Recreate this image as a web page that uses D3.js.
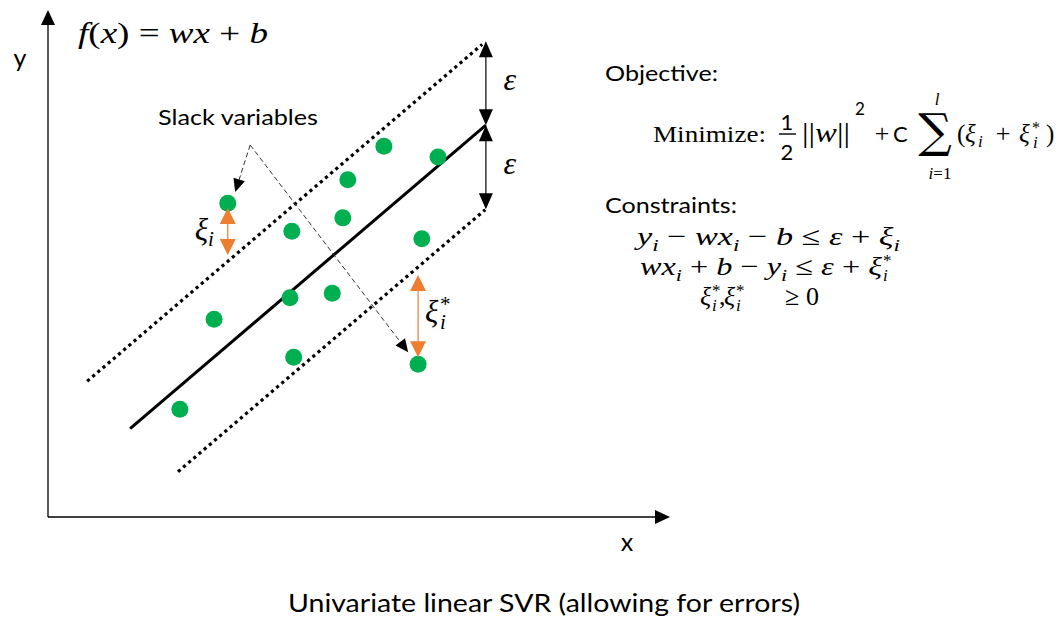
<!DOCTYPE html>
<html><head><meta charset="utf-8">
<script src="https://cdn.jsdelivr.net/npm/d3@7"></script>
<style>body{margin:0;background:#fff;}svg{display:block;}</style>
</head><body>
<svg id="chart" width="1063" height="619"></svg>
<script>
// ---- data (chart units) ----
const pointX = [2.89, 3.92, 4.82, 4.74, 5.40, 6.27, 6.01, 2.67, 3.89, 4.57, 3.95, 5.95, 2.12];
const pointY = [4.95, 4.51, 5.32, 4.72, 5.85, 5.68, 4.39, 3.12, 3.46, 3.53, 2.52, 2.41, 1.70];
const slope = 0.837;
const intercept = 0.29;
const epsilon = 1.325;
const bandNames = ["upper", "fit", "lower"];
const bandOffset = [1, 0, -1];          // multiples of epsilon
const bandXStart = [0.63, 1.32, 2.09];
const bandXEnd = [6.98, 7.04, 7.03];
const epsArrowX = 7.04;
const slackX = [2.89, 5.95];
const slackYTop = [4.876, 3.82];
const slackYBottom = [4.134, 2.52];
const noteApex = [3.25, 5.87];
const noteTipX = [3.01, 5.79];
const noteTipY = [5.13, 2.60];
const xDomain = [0, 10];
const yDomain = [0, 8];

// ---- scales ----
const svg = d3.select("#chart");
const x = d3.scaleLinear().domain(xDomain).range([48, 670]);
const y = d3.scaleLinear().domain(yDomain).range([517, 10]);
const f = v => slope * v + intercept;

function head(tx, ty, fx, fy, len, hw, color) {
  const dx = tx - fx, dy = ty - fy, d = Math.hypot(dx, dy);
  const ux = dx / d, uy = dy / d;
  const bx = tx - ux * len, by = ty - uy * len;
  return svg.append("path")
    .attr("d", `M${tx},${ty}L${bx - uy * hw},${by + ux * hw}L${bx + uy * hw},${by - ux * hw}Z`)
    .attr("fill", color);
}

// ---- axes ----
const g = svg.append("g");
g.append("line").attr("x1", x(0)).attr("x2", x(xDomain[1]) - 10).attr("y1", y(0)).attr("y2", y(0))
  .attr("stroke", "#000").attr("stroke-width", 1.3);
g.append("line").attr("x1", x(0)).attr("x2", x(0)).attr("y1", y(0)).attr("y2", y(yDomain[1]) + 10)
  .attr("stroke", "#000").attr("stroke-width", 1.3);
head(x(xDomain[1]), y(0), x(0), y(0), 15, 7, "#000");
head(x(0), y(yDomain[1]), x(0), y(0), 15, 7, "#000");

// ---- regression line and epsilon band ----
bandNames.forEach((n, i) => {
  const l = g.append("line")
    .attr("x1", x(bandXStart[i])).attr("y1", y(f(bandXStart[i]) + bandOffset[i] * epsilon))
    .attr("x2", x(bandXEnd[i])).attr("y2", y(f(bandXEnd[i]) + bandOffset[i] * epsilon))
    .attr("stroke", "#000");
  if (bandOffset[i] === 0) l.attr("stroke-width", 3);
  else l.attr("stroke-width", 3.2).attr("stroke-dasharray", "3.2,3.6");
});

// ---- epsilon arrows ----
[[1, 0], [0, -1]].forEach(([a, b]) => {
  const y1 = y(f(epsArrowX) + a * epsilon), y2 = y(f(epsArrowX) + b * epsilon);
  g.append("line").attr("x1", x(epsArrowX)).attr("x2", x(epsArrowX)).attr("y1", y1 + 8).attr("y2", y2 - 8)
    .attr("stroke", "#000").attr("stroke-width", 1.2);
  head(x(epsArrowX), y1, x(epsArrowX), y2, 16, 7, "#000");
  head(x(epsArrowX), y2, x(epsArrowX), y1, 16, 7, "#000");
});

// ---- annotation dashed lines ----
noteTipX.forEach((tx, i) => {
  const ax = x(noteApex[0]), ay = y(noteApex[1]), px = x(tx), py = y(noteTipY[i]);
  const d = Math.hypot(px - ax, py - ay);
  g.append("line").attr("x1", ax).attr("y1", ay)
    .attr("x2", px - (px - ax) / d * 8).attr("y2", py - (py - ay) / d * 8)
    .attr("stroke", "#333").attr("stroke-width", 1).attr("stroke-dasharray", "5,3");
  head(px, py, ax, ay, 13, 6, "#000");
});

// ---- points ----
g.selectAll("circle.pt").data(pointX).join("circle")
  .attr("class", "pt")
  .attr("cx", (d) => x(d)).attr("cy", (d, i) => y(pointY[i]))
  .attr("r", 8.5).attr("fill", "#00b050");

// ---- slack arrows ----
slackX.forEach((sx, i) => {
  const t = y(slackYTop[i]), b = y(slackYBottom[i]);
  g.append("line").attr("x1", x(sx)).attr("x2", x(sx)).attr("y1", t + 8).attr("y2", b - 8)
    .attr("stroke", "#ed7d31").attr("stroke-width", 1.2);
  head(x(sx), t, x(sx), b, 16, 8, "#ed7d31");
  head(x(sx), b, x(sx), t, 16, 8, "#ed7d31");
});

// ---- text helpers ----
const SANS = "Lato, 'Open Sans', sans-serif";
const SERIF = "'Liberation Serif', 'DejaVu Serif', serif";
function T(px, py, size, fam, opts = {}) {
  const t = svg.append("text").attr("x", px).attr("y", py)
    .attr("font-size", size).attr("font-family", fam).attr("fill", "#000");
  if (opts.anchor) t.attr("text-anchor", opts.anchor);
  if (opts.italic) t.attr("font-style", "italic");
  if (opts.len) t.attr("textLength", opts.len).attr("lengthAdjust", "spacingAndGlyphs");
  return t;
}
function parts(t, arr) {
  let shift = 0;
  arr.forEach(([s, it, k]) => {
    const sp = t.append("tspan").text(s);
    sp.attr("font-style", it ? "italic" : "normal");
    let target = 0;
    if (k === "sub") { target = 6; sp.attr("font-size", "0.68em"); }
    if (k === "sup") { target = -10; sp.attr("font-size", "0.68em"); }
    if (target !== shift) { sp.attr("dy", target - shift); shift = target; }
  });
  return t;
}

// labels
T(20, 67, 25, SANS, { anchor: "middle" }).text("y");
T(627, 551, 25, SANS, { anchor: "middle" }).text("x");
T(544, 612, 25, SANS, { anchor: "middle", len: 512 }).text("Univariate linear SVR (allowing for errors)");
T(158, 125, 21, SANS, { len: 160 }).text("Slack variables");
T(605, 81, 21, SANS, { len: 113 }).text("Objective:");
T(605, 213, 21, SANS, { len: 132 }).text("Constraints:");

// f(x) = wx + b
parts(T(78, 43, 29, SERIF, { len: 190 }), [["f", 1], ["(", 0], ["x", 1], [")", 0], [" = ", 0], ["wx", 1], [" + ", 0], ["b", 1]]);

// epsilon labels
const epsMid = [f(epsArrowX) + epsilon / 2, f(epsArrowX) - epsilon / 2];
epsMid.forEach(v => T(x(epsArrowX) + 24, y(v) + 7, 32, SERIF, { anchor: "middle", italic: true }).text("ε"));

// slack labels
parts(T(x(slackX[0]) - 33, y((slackYTop[0] + slackYBottom[0]) / 2) + 9, 31, SERIF), [["ξ", 1], ["i", 1, "sub"]]);
const sMid = y((slackYTop[1] + slackYBottom[1]) / 2);
T(x(slackX[1]) + 7, sMid + 6, 31, SERIF, { italic: true }).text("ξ");
T(x(slackX[1]) + 22, sMid - 5, 21, SERIF).text("*");
T(x(slackX[1]) + 22, sMid + 13, 21, SERIF, { italic: true }).text("i");

// Objective formula
T(653, 142, 24, SERIF, { len: 113 }).text("Minimize:");
T(787, 130, 22, SANS, { anchor: "middle" }).text("1");
T(787, 160, 22, SANS, { anchor: "middle" }).text("2");
svg.append("line").attr("x1", 779).attr("x2", 796).attr("y1", 134).attr("y2", 134).attr("stroke", "#000").attr("stroke-width", 1.4);
parts(T(802, 142, 28, SERIF, { len: 48 }), [["||", 0], ["w", 1], ["||", 0]]);
T(855, 115, 17, SANS).text("2");
T(882, 142, 26, SERIF, { anchor: "middle" }).text("+");
T(893, 142, 22, SANS).text("C");
T(935, 147, 47, "'DejaVu Serif', serif", { anchor: "middle" }).text("∑");
T(937, 105, 17, SERIF, { anchor: "middle", italic: true }).text("l");
parts(T(940, 179, 17, SERIF, { anchor: "middle" }), [["i", 1], ["=1", 0]]);
T(957, 142, 25, SERIF).text("(");
T(965, 142, 25, SERIF, { italic: true }).text("ξ");
T(978, 147, 17, SERIF, { italic: true }).text("i");
T(1003, 142, 26, SERIF, { anchor: "middle" }).text("+");
T(1019, 142, 25, SERIF, { italic: true }).text("ξ");
T(1032, 133, 16, SERIF).text("*");
T(1033, 148, 17, SERIF, { italic: true }).text("i");
T(1046, 142, 25, SERIF).text(")");

// Constraints
parts(T(637, 245, 26, SERIF, { len: 263 }), [["y", 1], ["i", 1, "sub"], ["  − ", 0, "n"], ["wx", 1], ["i", 1, "sub"], [" − ", 0, "n"], ["b", 1], [" ≤  ", 0], ["ε", 1], [" + ", 0], ["ξ", 1], ["i", 1, "sub"]]);
parts(T(640, 275, 26, SERIF, { len: 242 }), [["wx", 1], ["i", 1, "sub"], [" + ", 0, "n"], ["b", 1], [" − ", 0], ["y", 1], ["i", 1, "sub"], [" ≤  ", 0, "n"], ["ε", 1], [" + ", 0], ["ξ", 1]]);
T(883, 266, 17, SERIF).text("*");
T(883, 281, 17, SERIF, { italic: true }).text("i");
T(700, 305, 26, SERIF, { italic: true }).text("ξ");
T(712, 296, 17, SERIF).text("*");
T(712, 311, 17, SERIF, { italic: true }).text("i");
T(719, 305, 26, SERIF).text(",");
T(724, 305, 26, SERIF, { italic: true }).text("ξ");
T(736, 296, 17, SERIF).text("*");
T(736, 311, 17, SERIF, { italic: true }).text("i");
T(785, 305, 26, SERIF).text("≥");
T(806, 305, 26, SERIF).text("0");
</script>
</body></html>
